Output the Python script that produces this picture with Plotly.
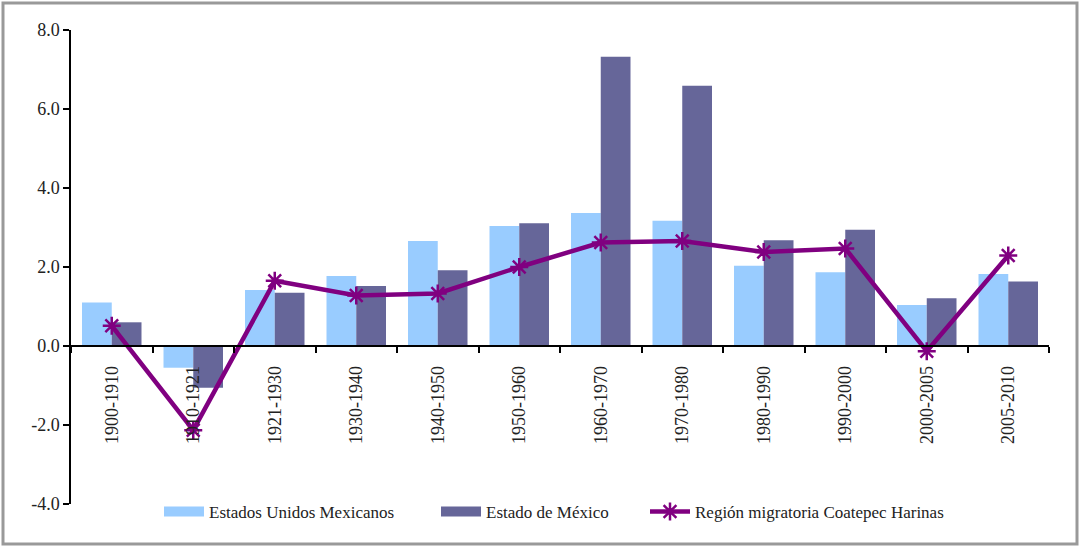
"""
Tasas de crecimiento: Estados Unidos Mexicanos, Estado de México y región Coatepec Harinas
"""
import plotly.graph_objects as go

periods = [
    "1900-1910", "1910-1921", "1921-1930", "1930-1940", "1940-1950", "1950-1960",
    "1960-1970", "1970-1980", "1980-1990", "1990-2000", "2000-2005", "2005-2010",
]
mexico_total = [1.10, -0.55, 1.42, 1.77, 2.66, 3.04, 3.37, 3.17, 2.03, 1.87, 1.04, 1.82]
estado_mexico = [0.60, -1.06, 1.35, 1.52, 1.92, 3.11, 7.32, 6.59, 2.68, 2.94, 1.21, 1.63]
region_coatepec = [0.51, -2.13, 1.65, 1.28, 1.33, 2.00, 2.62, 2.66, 2.38, 2.47, -0.13, 2.29]

y_ticks = [-4, -2, 0, 2, 4, 6, 8]
y_labels = ["-4.0", "-2.0", "0.0", "2.0", "4.0", "6.0", "8.0"]

W, H = 1080, 547
L, R, T, B = 71, 31, 30, 43
pw, ph = W - L - R, H - T - B

font = "'Liberation Serif', 'Times New Roman', serif"
c_light, c_dark, c_line = "#99CCFF", "#666699", "#800080"
names = ["Estados Unidos Mexicanos", "Estado de México",
         "Región migratoria Coatepec Harinas"]

fig = go.Figure()
fig.add_trace(go.Bar(
    x=periods, y=mexico_total, name=names[0], showlegend=False,
    marker_color=c_light, marker_line_width=0,
))
fig.add_trace(go.Bar(
    x=periods, y=estado_mexico, name=names[1], showlegend=False,
    marker_color=c_dark, marker_line_width=0,
))
fig.add_trace(go.Scatter(
    x=periods, y=region_coatepec, name=names[2], legend="legend3",
    mode="lines+markers",
    line=dict(color=c_line, width=4.5),
    marker=dict(symbol="asterisk-open", size=15, color=c_line,
                line=dict(color=c_line, width=2.5)),
))
# wide flat swatches for the bar series in the legend
for nm, col, lg in [(names[0], c_light, "legend"), (names[1], c_dark, "legend2")]:
    fig.add_trace(go.Scatter(
        x=[None], y=[None], name=nm, mode="lines", legend=lg,
        line=dict(color=col, width=10), hoverinfo="skip",
    ))


# pixel -> paper coords relative to the plot area
def px_x(v):
    return (v - L) / pw


def px_y(v):
    return (H - B - v) / ph


# outer gray frame
fig.add_shape(
    type="rect", xref="paper", yref="paper",
    x0=px_x(3), x1=px_x(1077), y0=px_y(544), y1=px_y(3),
    line=dict(color="#999999", width=3), fillcolor="rgba(0,0,0,0)",
    layer="below",
)

legend_style = dict(
    orientation="h", xanchor="left", yanchor="middle", y=px_y(512),
    font=dict(size=17), itemwidth=40, bgcolor="rgba(0,0,0,0)",
)
# each legend placed so its text starts where the reference text starts
fig.update_layout(
    width=W, height=H,
    margin=dict(l=L, r=R, t=T, b=B),
    paper_bgcolor="white", plot_bgcolor="white",
    font=dict(family=font, size=18, color="#222222"),
    barmode="group", bargap=0.27, bargroupgap=0,
    showlegend=True,
    legend=dict(legend_style, x=px_x(209 - 50)),
    legend2=dict(legend_style, x=px_x(486 - 50)),
    legend3=dict(legend_style, x=px_x(695 - 50)),
)
fig.update_xaxes(
    type="category", range=[-0.5, len(periods) - 0.5],
    anchor="free", position=4 / 12,
    showline=True, linecolor="black", linewidth=1.5,
    ticks="outside", ticklen=6, tickwidth=1.5, tickcolor="black",
    tickson="boundaries", tickangle=-90, showgrid=False,
    ticklabelstandoff=12, tickfont=dict(size=18),
)
fig.update_yaxes(
    range=[-4, 8], tickvals=y_ticks, ticktext=y_labels,
    showline=True, linecolor="black", linewidth=1.5,
    ticks="outside", ticklen=6, tickwidth=1.5, tickcolor="black",
    showgrid=False, zeroline=False, tickfont=dict(size=18),
)

fig.write_html(
    "out.html",
    config={"displayModeBar": False},
    post_script="document.body.style.margin='0';",
)
